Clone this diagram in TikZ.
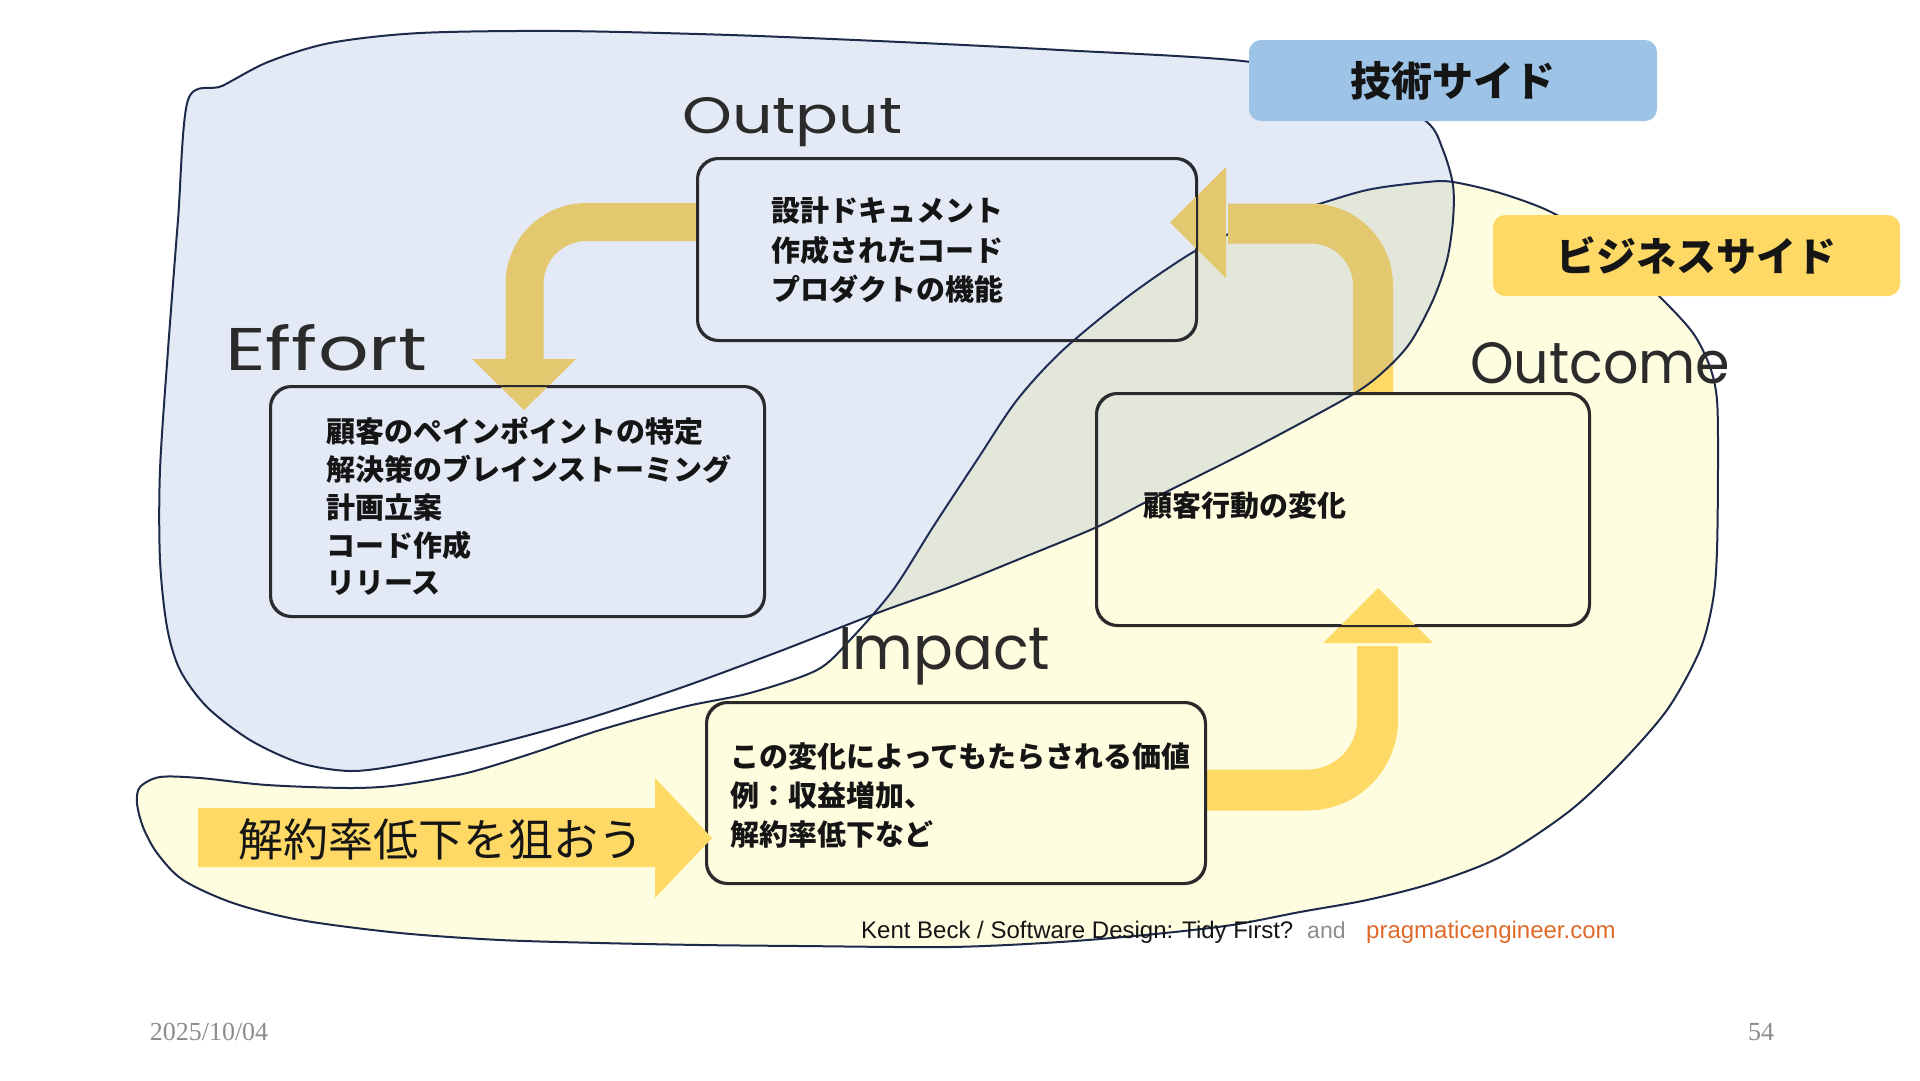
\documentclass[tikz,border=0pt]{standalone}
\usepackage{fontspec}
\usepackage{graphicx}
\usetikzlibrary{calc}
\newfontfamily\jpfont{Noto Sans CJK JP}
\newfontfamily\handfont{Poppins}
\newfontfamily\sansfont{Liberation Sans}
\newfontfamily\seriffont{Liberation Serif}
\definecolor{navyline}{HTML}{1E2A4A}
\definecolor{boxline}{HTML}{2A2A2A}
\definecolor{cream}{HTML}{FFFDE0}
\definecolor{gold}{HTML}{FFD966}
\definecolor{techblue}{HTML}{9DC3E6}
\definecolor{overlay}{RGB}{30,80,180}
\definecolor{ink}{HTML}{151515}
\definecolor{handink}{HTML}{2B2B2B}
\definecolor{footgray}{HTML}{8C8C8C}
\definecolor{orangetxt}{HTML}{E06A2A}
\tikzset{
  blob/.style={draw=navyline, line width=2pt},
  card/.style={draw=boxline, line width=2pt, rounded corners=21pt, inner sep=0pt},
  band/.style={draw=gold, line width=38pt, rounded corners=62pt},
  headfill/.style={fill=gold},
  jline/.style={inner sep=0pt, anchor=west, text=ink, font=\jpfont\bfseries\fontsize{29pt}{38pt}\selectfont},
  hand/.style={inner sep=0pt, anchor=base west, text=handink, font=\handfont},
  tag/.style={rounded corners=12pt, inner sep=0pt, text=ink, font=\jpfont\bfseries\fontsize{41pt}{41pt}\selectfont},
}
\begin{document}
\begin{tikzpicture}[x=1pt,y=-1pt]
\useasboundingbox (0,0) rectangle (1920,1080);
\fill[white] (0,0) rectangle (1920,1080);

% business side blob
\path[blob, fill=cream] plot[smooth cycle, tension=0.5] coordinates {
(1453,182) (1500,193) (1553,213) (1610,250) (1660,297) (1693,333) (1710,367)
(1717,400) (1718,460) (1717,550) (1713,600) (1700,650) (1667,710) (1617,767)
(1567,813) (1500,857) (1433,883) (1367,900) (1300,912) (1232,925) (1155,934)
(1060,942) (950,947) (800,946) (700,945) (600,943) (500,940) (400,933)
(300,920) (233,903) (183,880) (157,853) (143,827) (137,803) (140,787)
(160,777) (200,778) (267,785) (350,788) (400,785) (467,773) (533,753)
(600,730) (683,707) (750,693) (817,670) (850,640) (893,590) (933,527)
(977,460) (1017,400) (1063,350) (1130,295) (1195,251) (1250,225) (1300,210)
(1367,190) (1427,182)};

% boxes (nodes)
\node[card, minimum width=498pt, minimum height=181pt] (output) at (947,249.5) {};
\node[card, minimum width=493pt, minimum height=229pt] (effort) at (517.5,501.5) {};
\node[card, minimum width=492pt, minimum height=231pt] (outcome) at (1343,509.5) {};
\node[card, minimum width=498pt, minimum height=180pt] (impact) at (956,793) {};

% arrows (bands)
\coordinate (ya) at (0,222);
\coordinate (xb) at (1373,0);
\coordinate (yc) at (0,790);
\draw[band] (output.west |- ya) -| (524.5,362);
\fill[headfill] (472,359) -- (576,359) -- (524,410) -- cycle;
\draw[band, line width=40pt, rounded corners=62pt] (outcome.north -| xb) |- (1228,223.5);
\fill[headfill] (1226,167) -- (1226,278) -- (1170,222.5) -- cycle;
\draw[band, line width=41pt, rounded corners=70pt] (impact.east |- yc) -| (1377.5,646);
\fill[headfill] (1323,643) -- (1433,643) -- (1378,588) -- cycle;

% technical side blob (translucent overlay)
\path[blob, fill=overlay, fill opacity=0.12] plot[smooth cycle, tension=0.5] coordinates {
(188,100) (222,86) (268,62) (330,43) (420,33) (560,31) (730,35) (900,42)
(1060,50) (1251,62) (1370,90) (1427,122) (1443,150) (1453,185) (1453,220)
(1447,260) (1433,300) (1410,343) (1383,372) (1350,396) (1250,450) (1150,500)
(1097,527) (1017,560) (950,587) (880,612) (783,650) (683,687) (583,720)
(483,747) (400,765) (350,771) (300,763) (250,740) (207,707) (180,670)
(167,627) (160,560) (160,470) (168,350) (178,220)};

% box outlines on top
\foreach \b in {output,effort,outcome,impact}
  \draw[boxline, line width=2pt, rounded corners=21pt] (\b.north west) rectangle (\b.south east);

% handwritten labels
\node[hand] (lout) at (682,133) {\resizebox{220pt}{36pt}{Output}};
\node[hand] (leff) at (225,370) {\resizebox{202pt}{46pt}{Effort}};
\node[hand] (lotc) at (1470,383) {\resizebox{260pt}{41pt}{Outcome}};
\node[hand] (limp) at (838,669) {\resizebox{212pt}{42pt}{Impact}};

% box texts
\node[jline] (o1) at (771,211) {設計ドキュメント};
\node[jline] (o2) at (771,250) {作成されたコード};
\node[jline] (o3) at (771,289) {プロダクトの機能};

\node[jline] (e1) at (326,431) {顧客のペインポイントの特定};
\node[jline] (e2) at (326,469) {解決策のブレインストーミング};
\node[jline] (e3) at (326,507) {計画立案};
\node[jline] (e4) at (326,545) {コード作成};
\node[jline] (e5) at (326,583) {リリース};

\node[jline] (c1) at (1143,506) {顧客行動の変化};

\node[jline] (i1) at (730,757) {この変化によってもたらされる価値};
\node[jline] (i2) at (730,795) {例：収益増加、};
\node[jline] (i3) at (730,834) {解約率低下など};

% side tags
\node[tag, fill=techblue, minimum width=408pt, minimum height=81pt] (tech) at (1453,80.5) {技術サイド};
\node[tag, fill=gold, minimum width=407pt, minimum height=81pt, font=\jpfont\bfseries\fontsize{40pt}{40pt}\selectfont] (biz) at (1696.5,255.5) {ビジネスサイド};

% goal arrow
\coordinate (ytip) at (0,838);
\fill[gold] (198,808) -- (655,808) -- (655,778) -- ([xshift=6pt]impact.west |- ytip) -- (655,898) -- (655,867) -- (198,867) -- cycle;
\node[inner sep=0pt, text=ink, font=\jpfont\fontsize{45pt}{45pt}\selectfont] (goal) at (441,839) {解約率低下を狙おう};

% footer
\node[inner sep=0pt, anchor=base west, text=ink, font=\sansfont\fontsize{24pt}{24pt}\selectfont] (src1) at (861,938) {Kent Beck / Software Design: Tidy First?};
\node[inner sep=0pt, anchor=base west, text=footgray, font=\sansfont\fontsize{23pt}{23pt}\selectfont] (src2) at (1307,938) {and};
\node[inner sep=0pt, anchor=base west, text=orangetxt, font=\sansfont\fontsize{24pt}{24pt}\selectfont] (src3) at (1366,938) {pragmaticengineer.com};
\node[inner sep=0pt, text=footgray, font=\seriffont\fontsize{26pt}{26pt}\selectfont] (date) at (209,1032) {2025/10/04};
\node[inner sep=0pt, text=footgray, font=\seriffont\fontsize{26pt}{26pt}\selectfont] (page) at (1761,1032) {54};
\end{tikzpicture}
\end{document}
